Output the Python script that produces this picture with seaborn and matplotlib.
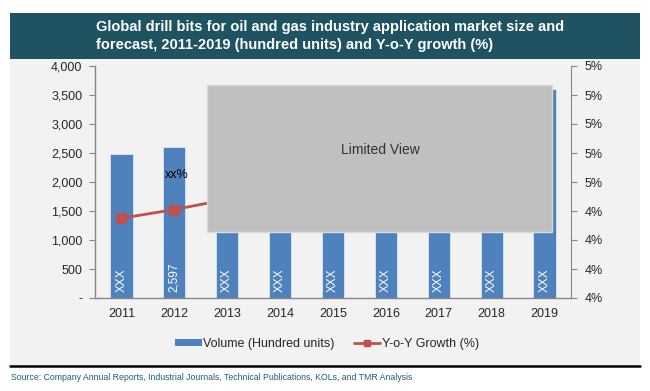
import matplotlib.pyplot as plt
import matplotlib.ticker as mticker
from matplotlib.patches import Rectangle, Patch
from matplotlib.lines import Line2D
import numpy as np
import pandas as pd
import seaborn as sns

# Data (2013-2018 bars and most of the line sit under the "Limited View" box)
years = ['2011', '2012', '2013', '2014', '2015', '2016', '2017', '2018', '2019']
volume = [2490, 2597, 2700, 2820, 2950, 3080, 3220, 3400, 3600]
growth = [4.35, 4.41, 4.48, 4.55, 4.62, 4.70, 4.78, 4.86, 4.95]
bar_labels = ['XXX', '2,597', 'XXX', 'XXX', 'XXX', 'XXX', 'XXX', 'XXX', 'XXX']
left_ticks = [0, 500, 1000, 1500, 2000, 2500, 3000, 3500, 4000]
right_ticks = [3.8, 4.0, 4.2, 4.4, 4.6, 4.8, 5.0, 5.2, 5.4]

df = pd.DataFrame({'year': years, 'volume': volume, 'growth': growth})

sns.set_style('white')
plt.rcParams['font.family'] = ['Liberation Sans', 'DejaVu Sans']

BLUE = '#4f81bd'
RED = '#c0504d'
GREY_AX = '#868686'

fig = plt.figure(figsize=(6.5, 3.91), dpi=100)
fig.patch.set_facecolor('white')

# background panels
fig.patches.append(Rectangle((10 / 650, 1 - 367 / 391), 630 / 650, (367 - 58) / 391,
                             transform=fig.transFigure, facecolor='#f2f2f2', edgecolor='none', zorder=-5))
fig.patches.append(Rectangle((10 / 650, 1 - 59 / 391), 630 / 650, 46 / 391,
                             transform=fig.transFigure, facecolor='#1f5361', edgecolor='none', zorder=-5))
fig.add_artist(Line2D([10 / 650, 640 / 650], [1 - 366 / 391] * 2, transform=fig.transFigure,
                      color='black', lw=1.8))

fig.text(96 / 650, 1 - 27 / 391, 'Global drill bits for oil and gas industry application market size and',
         color='white', fontsize=10.5, fontweight='bold', va='center', ha='left')
fig.text(96 / 650, 1 - 45 / 391, 'forecast, 2011-2019 (hundred units) and Y-o-Y growth (%)',
         color='white', fontsize=10.5, fontweight='bold', va='center', ha='left')
fig.text(11 / 650, 1 - 377 / 391,
         'Source: Company Annual Reports, Industrial Journals, Technical Publications, KOLs, and TMR Analysis',
         color='#1f5f7a', fontsize=6.3, va='center', ha='left')

ax = fig.add_axes([95 / 650, 1 - 298 / 391, 476 / 650, 232 / 391])
ax.set_facecolor('none')
sns.barplot(data=df, x='year', y='volume', color=BLUE, width=0.42, saturation=1,
            edgecolor='#dce6f2', linewidth=0.6, ax=ax, zorder=2)
ax.set_ylim(0, 4000)
ax.set_xlim(-0.5, len(years) - 0.5)
ax.set_yticks(left_ticks)
ax.yaxis.set_major_formatter(mticker.FuncFormatter(lambda v, p: '-' if v == 0 else f'{v:,.0f}'))
ax.set_xlabel('')
ax.set_ylabel('')
ax.set_xticks(np.arange(len(years)))
ax.set_xticklabels(years)
ax.set_xticks(np.arange(len(years) + 1) - 0.5, minor=True)
ax.tick_params(axis='x', which='major', length=0, pad=7, labelsize=9)
ax.tick_params(axis='x', which='minor', length=4, color=GREY_AX, direction='out')
ax.tick_params(axis='y', length=4, color=GREY_AX, direction='out', labelsize=9, pad=5, left=True)
for s in ['top', 'right']:
    ax.spines[s].set_visible(False)
for s in ['left', 'bottom']:
    ax.spines[s].set_color(GREY_AX)
    ax.spines[s].set_linewidth(1)

for i, lab in enumerate(bar_labels):
    ax.text(i, 110, lab, rotation=90, color='white', fontsize=8.5, ha='center', va='bottom', zorder=3)
ax.text(1.05, 2120, 'xx%', color='black', fontsize=9, ha='center', va='center', zorder=3)

ax2 = ax.twinx()
sns.lineplot(x=np.arange(len(years)), y=growth, color=RED, lw=2, marker='s', markersize=7,
             markeredgecolor=RED, ax=ax2)
ax2.set_ylim(3.8, 5.4)
ax2.set_yticks(right_ticks)
# Excel-style half-up rounding for the whole-percent labels
ax2.yaxis.set_major_formatter(mticker.FuncFormatter(lambda v, p: f'{int(np.floor(v + 0.5 + 1e-9))}%'))
ax2.tick_params(axis='y', length=4, color=GREY_AX, direction='out', labelsize=9, pad=6, right=True)
ax2.set_ylabel('')
for s in ['top', 'left', 'bottom']:
    ax2.spines[s].set_visible(False)
ax2.spines['right'].set_color(GREY_AX)

# "Limited View" box
ax2.add_patch(Rectangle((0.235, 0.284), 0.725, 0.634, transform=ax2.transAxes,
                        facecolor='#c0c0c0', edgecolor='#d9d9d9', lw=1, zorder=10))
ax2.text(0.60, 0.64, 'Limited View', transform=ax2.transAxes, fontsize=10, color='#333333',
         ha='center', va='center', zorder=11)

# legend
handles = [Patch(facecolor=BLUE, edgecolor='none'),
           Line2D([], [], color=RED, lw=2, marker='s', markersize=5)]
fig.legend(handles, ['Volume (Hundred units)', 'Y-o-Y Growth (%)'], loc='center',
           bbox_to_anchor=(327 / 650, 1 - 344 / 391), ncol=2, frameon=False, fontsize=9,
           handlelength=2.1, handleheight=0.5, columnspacing=1.6, handletextpad=0.1)

fig.savefig('out.png', dpi=100, facecolor='white')
